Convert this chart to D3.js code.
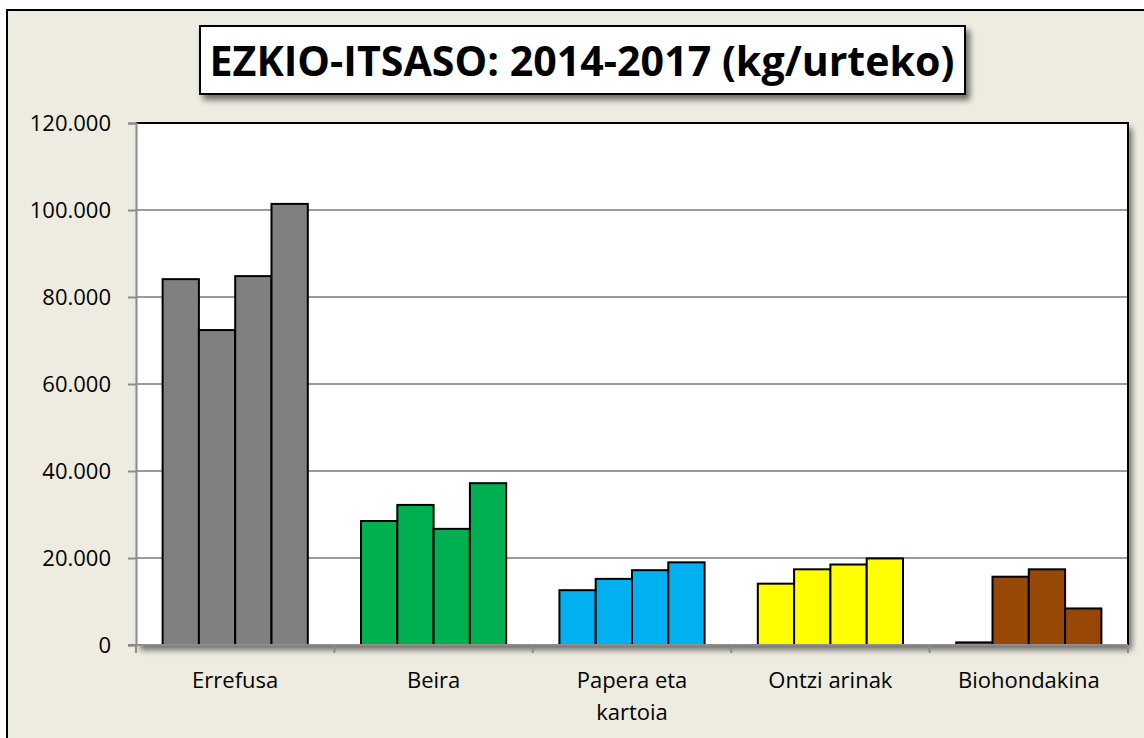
<!DOCTYPE html>
<html>
<head>
<meta charset="utf-8">
<script src="https://cdn.jsdelivr.net/npm/d3@7"></script>
<style>
  body { margin: 0; background: #ffffff; }
  text { font-family: "Open Sans", "Noto Sans", sans-serif; }
</style>
</head>
<body>
<div id="chart"></div>
<script>
// chart data
var categories = ["Errefusa", "Beira", "Papera eta\nkartoia", "Ontzi arinak", "Biohondakina"]
var years = ["2014", "2015", "2016", "2017"]
var errefusa = [84100, 72400, 84800, 101400]
var beira = [28500, 32200, 26700, 37200]
var papera = [12600, 15200, 17200, 19000]
var ontzi = [14100, 17400, 18500, 19900]
var biohondakina = [600, 15700, 17400, 8400]
var yTicks = [0, 20000, 40000, 60000, 80000, 100000, 120000]
var colors = ["#808080", "#00B050", "#00B0F0", "#FFFF00", "#974706"]

var series = [errefusa, beira, papera, ontzi, biohondakina]

var width = 1144,
    height = 738

var plot = {left: 136, top: 123, right: 1128, bottom: 645}

var svg = d3.select("#chart")
  .append("svg")
    .attr("width", width)
    .attr("height", height)

var defs = svg.append("defs")

// soft shadow used for the title box and plot area
var shadow = defs.append("filter")
    .attr("id", "shadow")
    .attr("x", "-10%").attr("y", "-10%")
    .attr("width", "130%").attr("height", "140%")
shadow.append("feGaussianBlur")
    .attr("in", "SourceAlpha")
    .attr("stdDeviation", 3)
    .attr("result", "blur")
shadow.append("feOffset")
    .attr("in", "blur")
    .attr("dx", 4).attr("dy", 5)
    .attr("result", "off")
shadow.append("feComponentTransfer")
    .attr("in", "off").attr("result", "soft")
  .append("feFuncA").attr("type", "linear").attr("slope", 0.55)
var merge = shadow.append("feMerge")
merge.append("feMergeNode").attr("in", "soft")
merge.append("feMergeNode").attr("in", "SourceGraphic")

// outer chart background
svg.append("rect")
    .attr("x", 7).attr("y", 10)
    .attr("width", width + 10).attr("height", height + 10)
    .attr("fill", "#EEECE1")
    .attr("stroke", "#000")
    .attr("stroke-width", 2)

// scales
var x0 = d3.scaleBand()
    .domain(categories)
    .range([plot.left, plot.right])
    .paddingInner(0)
    .paddingOuter(0)

var x1 = d3.scaleBand()
    .domain(years)
    .range([0, x0.bandwidth()])
    .paddingInner(0)
    .paddingOuter(0.733)

var y = d3.scaleLinear()
    .domain([0, 120000])
    .range([plot.bottom, plot.top])

// plot area with shadow
svg.append("rect")
    .attr("x", plot.left).attr("y", plot.top)
    .attr("width", plot.right - plot.left)
    .attr("height", plot.bottom - plot.top)
    .attr("fill", "#fff")
    .attr("filter", "url(#shadow)")

// gridlines
svg.append("g")
  .selectAll("line")
  .data(yTicks.filter(function(d) { return d > 0 && d < 120000 }))
  .enter()
  .append("line")
    .attr("x1", plot.left).attr("x2", plot.right)
    .attr("y1", function(d) { return y(d) })
    .attr("y2", function(d) { return y(d) })
    .attr("stroke", "#9a9a9a")
    .attr("stroke-width", 2)

// plot border: black top and right
svg.append("path")
    .attr("d", "M" + plot.left + "," + plot.top + "H" + plot.right + "V" + plot.bottom)
    .attr("fill", "none")
    .attr("stroke", "#000")
    .attr("stroke-width", 2)

// bars
var groups = svg.append("g")
  .selectAll("g")
  .data(series)
  .enter()
  .append("g")
    .attr("transform", function(d, i) { return "translate(" + x0(categories[i]) + ",0)" })

groups.each(function(vals, i) {
  d3.select(this).selectAll("rect")
    .data(vals)
    .enter()
    .append("rect")
      .attr("x", function(d, j) { return x1(years[j]) })
      .attr("y", function(d) { return y(d) })
      .attr("width", x1.bandwidth())
      .attr("height", function(d) { return y(0) - y(d) })
      .attr("fill", colors[i])
      .attr("stroke", "#000")
      .attr("stroke-width", 2)
})

// y axis
var yAxis = svg.append("g")
    .attr("transform", "translate(" + plot.left + ",0)")
    .call(d3.axisLeft(y)
      .tickValues(yTicks)
      .tickSize(8)
      .tickPadding(17)
      .tickFormat(function(d) { return d === 0 ? "0" : d3.format(",")(d).replace(/,/g, ".") }))
yAxis.select(".domain").attr("stroke", "#8c8c8c").attr("stroke-width", 2)
yAxis.selectAll(".tick line").attr("stroke", "#8c8c8c").attr("stroke-width", 2)
yAxis.selectAll(".tick text")
    .attr("font-size", 22)
    .attr("fill", "#000")
    .style("font-family", "'Open Sans', sans-serif")

// x axis line and ticks at category boundaries
var xAxis = svg.append("g")
xAxis.append("line")
    .attr("x1", plot.left - 8).attr("x2", plot.right)
    .attr("y1", plot.bottom).attr("y2", plot.bottom)
    .attr("stroke", "#8c8c8c")
    .attr("stroke-width", 2)
xAxis.selectAll(".xtick")
  .data(categories.map(function(c) { return x0(c) }).concat([plot.right]))
  .enter()
  .append("line")
    .attr("x1", function(d) { return d }).attr("x2", function(d) { return d })
    .attr("y1", plot.bottom).attr("y2", plot.bottom + 8)
    .attr("stroke", "#8c8c8c")
    .attr("stroke-width", 2)

// category labels
var labels = svg.append("g")
  .selectAll("text")
  .data(categories)
  .enter()
  .append("text")
    .attr("x", function(d) { return x0(d) + x0.bandwidth() / 2 })
    .attr("y", 688)
    .attr("text-anchor", "middle")
    .attr("font-size", 22)
    .attr("fill", "#000")

labels.each(function(d) {
  var lines = d.split("\n")
  var t = d3.select(this)
  lines.forEach(function(l, k) {
    t.append("tspan")
      .attr("x", t.attr("x"))
      .attr("dy", k === 0 ? 0 : 32)
      .text(l)
  })
})

// title box
svg.append("rect")
    .attr("x", 200).attr("y", 26)
    .attr("width", 765).attr("height", 68)
    .attr("fill", "#fff")
    .attr("stroke", "#000")
    .attr("stroke-width", 2)
    .attr("filter", "url(#shadow)")

svg.append("text")
    .attr("x", 582).attr("y", 76)
    .attr("text-anchor", "middle")
    .attr("font-size", 42)
    .attr("font-weight", "bold")
    .attr("textLength", 745)
    .attr("lengthAdjust", "spacingAndGlyphs")
    .attr("fill", "#000")
    .text("EZKIO-ITSASO: 2014-2017 (kg/urteko)")
</script>
</body>
</html>
